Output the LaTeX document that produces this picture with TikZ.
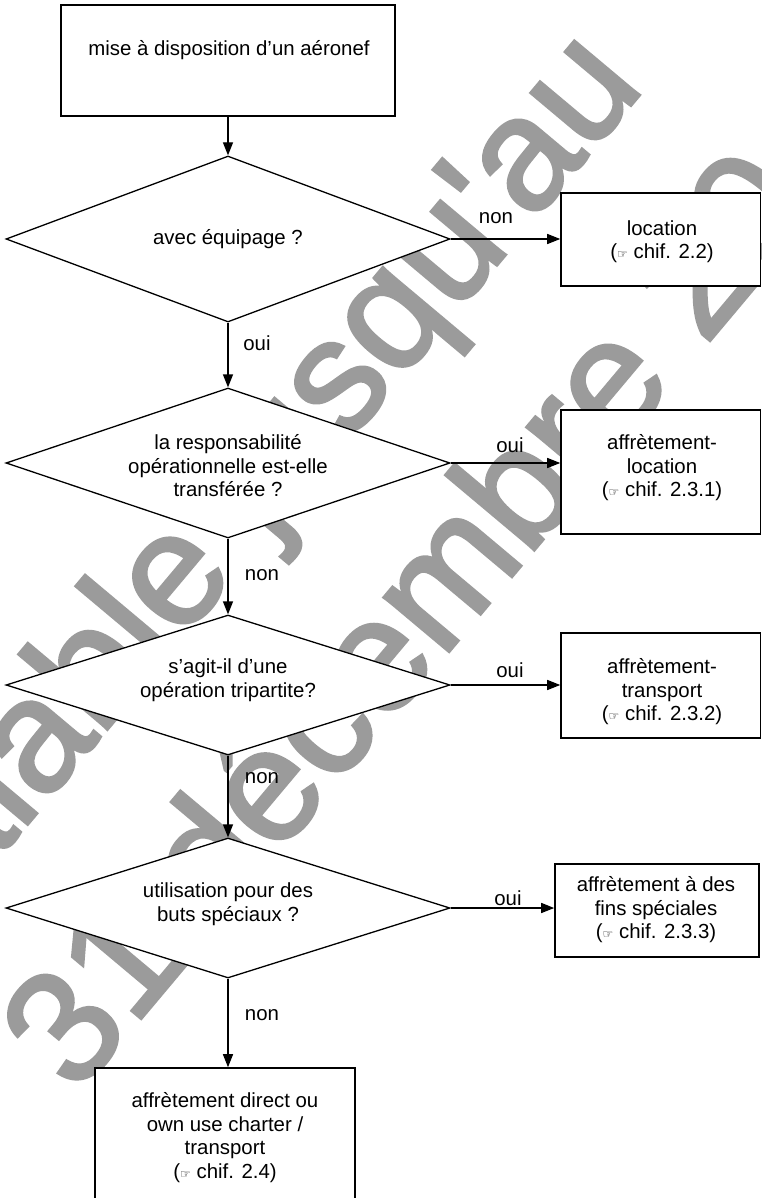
\documentclass[tikz,border=0pt]{standalone}
\usepackage{fontspec}
\setmainfont{Liberation Sans}
\newfontfamily\symfont{DejaVu Sans}
\newfontfamily\wmfont[FakeBold=2]{Liberation Sans}
\usetikzlibrary{shapes.geometric,arrows.meta}
\definecolor{wmgray}{RGB}{155,155,155}
\newcommand{\hand}{{\symfont\fontsize{12}{12}\selectfont ☞}}
\begin{document}
\begin{tikzpicture}[x=1pt,y=-1pt,
  txt/.style={font=\fontsize{20.4}{23.5}\selectfont, align=center, inner sep=0pt},
  box/.style={draw, fill=white, line width=1.6pt, inner sep=0pt, rectangle},
  dia/.style={draw, fill=white, line width=1.3pt, inner sep=0pt, diamond, minimum width=444pt},
  arr/.style={-{Triangle[length=13pt,width=10pt]}, line width=1.3pt},
  wm/.style={text=wmgray, font=\wmfont\fontsize{160}{160}\selectfont, inner sep=0pt, rotate=50, anchor=base west}]
\useasboundingbox (0,0) rectangle (762,1198);
\clip (0,0) rectangle (762,1198);
\fill[white] (0,0) rectangle (762,1198);
% watermark
\node[wm] (wmA) at (-88,962) {valable jusqu\textquotesingle au};
\node[wm] (wmB) at (76,1096) {31 décembre 20};
% shapes
\node[box, minimum width=334pt, minimum height=111pt] (top) at (228,60.5) {};
\node[dia, minimum height=166pt] (d1) at (228,239) {};
\node[dia, minimum height=150pt] (d2) at (228,463) {};
\node[dia, minimum height=140pt] (d3) at (228,685) {};
\node[dia, minimum height=140pt] (d4) at (228,908) {};
\node[box, minimum width=199.5pt, minimum height=93pt] (l1) at (660.75,239.5) {};
\node[box, minimum width=199.5pt, minimum height=124pt] (l2) at (660.75,472) {};
\node[box, minimum width=199.5pt, minimum height=105pt] (l3) at (660.75,685.5) {};
\node[box, minimum width=204pt, minimum height=93pt] (l4) at (657,910.5) {};
\node[box, minimum width=260pt, minimum height=162pt] (fin) at (225,1149) {};
% texts
\node[txt] (ttop) at (229,50) {mise à disposition d’un aéronef};
\node[txt] (td1) at (228,239) {avec équipage ?};
\node[txt] (td2) at (228,466) {la responsabilité\\opérationnelle est-elle\\transférée ?};
\node[txt] (td3) at (228,680) {s’agit-il d’une\\opération tripartite?};
\node[txt] (td4) at (228,904) {utilisation pour des\\buts spéciaux ?};
\node[txt] (tl1) at (662,241.5) {location\\(\hand{} chif. 2.2)};
\node[txt] (tl2) at (662,468) {affrètement-\\location\\(\hand{} chif. 2.3.1)};
\node[txt] (tl3) at (662,692) {affrètement-\\transport\\(\hand{} chif. 2.3.2)};
\node[txt] (tl4) at (656,910) {affrètement à des\\fins spéciales\\(\hand{} chif. 2.3.3)};
\node[txt] (tfin) at (225,1137.5) {affrètement direct ou\\own use charter /\\transport\\(\hand{} chif. 2.4)};
% connectors
\draw[arr] (top.south) -- (d1.north);
\draw[arr] (d1.south) -- (d2.north);
\draw[arr] (d2.south) -- (d3.north);
\draw[arr] (d3.south) -- (d4.north);
\draw[arr] (d4.south) -- (d4.south |- fin.north);
\draw[arr] (d1.east) -- (d1.east -| l1.west);
\draw[arr] (d2.east) -- (d2.east -| l2.west);
\draw[arr] (d3.east) -- (d3.east -| l3.west);
\draw[arr] (d4.east) -- (d4.east -| l4.west);
% labels
\node[txt] (n1) at (496,218) {non};
\node[txt] (o1) at (257,343) {oui};
\node[txt] (o2) at (510,445) {oui};
\node[txt] (n2) at (262,575) {non};
\node[txt] (o3) at (510,670) {oui};
\node[txt] (n3) at (262,778) {non};
\node[txt] (o4) at (508,898) {oui};
\node[txt] (n4) at (262,1015) {non};
\end{tikzpicture}
\end{document}
